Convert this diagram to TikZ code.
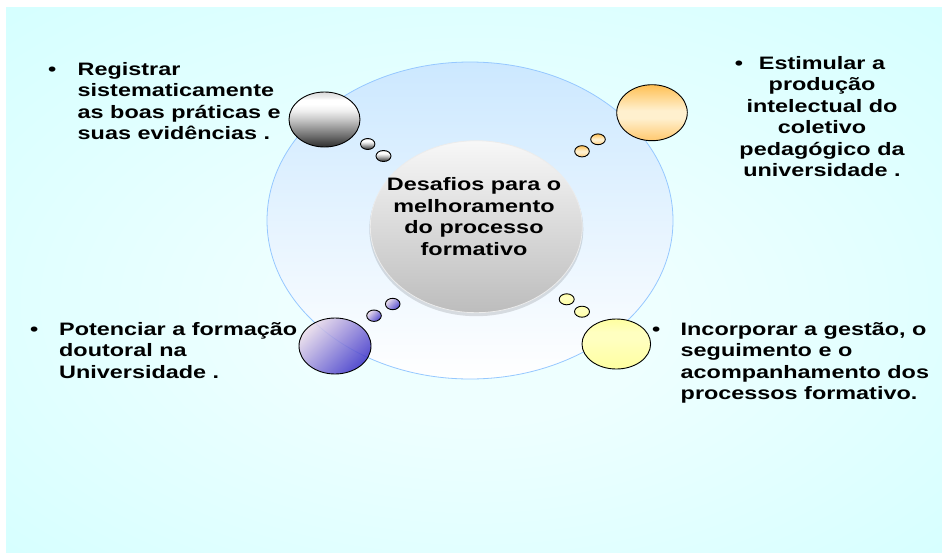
\documentclass[tikz,border=0pt]{standalone}
\usepackage{fontspec}
\usetikzlibrary{shapes.geometric}
\newfontfamily\fnt[FakeStretch=1.3]{Liberation Sans}
\newcommand\bul[1]{\llap{•\hspace{#1}}}
\definecolor{bgin}{RGB}{238,255,255}
\definecolor{bgout}{RGB}{202,255,255}
\definecolor{outtop}{RGB}{204,232,255}
\definecolor{outline}{RGB}{150,200,255}
\definecolor{orA}{RGB}{255,192,84}
\definecolor{orC}{RGB}{255,200,110}
\definecolor{orB}{RGB}{255,240,206}
\definecolor{puA}{RGB}{236,220,234}
\definecolor{puB}{RGB}{58,48,200}
\definecolor{yeA}{RGB}{255,255,160}
\definecolor{yeB}{RGB}{255,255,192}
\pgfdeclareradialshading{bgshade}{\pgfpoint{0bp}{-4bp}}{color(0bp)=(bgin); color(10bp)=(bgin); color(48bp)=(bgout)}
\pgfdeclareverticalshading{grayball}{100bp}{color(0bp)=(black!82); color(25bp)=(black!82); color(36bp)=(black!55); color(50bp)=(black!22); color(58bp)=(black!6); color(64bp)=(white); color(68bp)=(white); color(71bp)=(black!8); color(75bp)=(black!14); color(100bp)=(black!14)}
\pgfdeclareverticalshading{orangeball}{100bp}{color(0bp)=(orC); color(25bp)=(orC); color(45bp)=(orB); color(52bp)=(orB); color(75bp)=(orA); color(100bp)=(orA)}
\pgfdeclareverticalshading{yellowball}{100bp}{color(0bp)=(yeA); color(25bp)=(yeA); color(55bp)=(yeB); color(62bp)=(yeB); color(75bp)=(yeA); color(100bp)=(yeA)}
\tikzset{
  txt/.style={font=\fnt\bfseries\fontsize{18}{21.5}\selectfont, inner sep=0pt, text=black},
  blob/.style={ellipse, inner sep=0pt, draw=black, line width=0.9pt},
  graysh/.style={blob, shading=grayball},
  orangesh/.style={blob, shading=orangeball},
  purplesh/.style={blob, top color=puA, bottom color=puB, shading angle=45, fill opacity=0.85},
  yellowsh/.style={blob, shading=yellowball},
}
\begin{document}
\begin{tikzpicture}[x=1pt,y=-1pt]
\useasboundingbox (0,0) rectangle (942,552);
\fill[white] (0,0) rectangle (942,552);
\shade[shading=bgshade] (6,7.5) rectangle (942,552);
% outer ellipse
\node[ellipse, inner sep=0pt, minimum width=406pt, minimum height=317pt, draw=outline, line width=0.8pt, top color=outtop, bottom color=white] (outer) at (470,220.5) {};
% inner ellipse with soft shadow
\fill[black, opacity=0.12] (476.3,229.2) ellipse [x radius=107pt, y radius=87pt];
\node[ellipse, inner sep=0pt, minimum width=212pt, minimum height=172pt, draw=white!85!gray, line width=0.8pt, top color=white!97!black, bottom color=white!74!black] (inner) at (476.3,226.7) {};
% top-left gray
\node[graysh, minimum width=71pt, minimum height=55pt] (g) at (324.5,119.5) {};
\node[graysh, minimum width=14.4pt, minimum height=11pt] (g1) at (367.7,144) {};
\node[graysh, minimum width=15pt, minimum height=11pt] (g2) at (383.5,156) {};
% top-right orange
\node[orangesh, minimum width=70.6pt, minimum height=56pt] (o) at (652,112.7) {};
\node[orangesh, minimum width=14.6pt, minimum height=10.8pt] (o1) at (598,139.3) {};
\node[orangesh, minimum width=14.6pt, minimum height=11.2pt] (o2) at (582,151.3) {};
% bottom-left purple
\node[purplesh, minimum width=72pt, minimum height=56pt] (p) at (335,346) {};
\node[purplesh, minimum width=14.6pt, minimum height=11.4pt] (p1) at (374,315.7) {};
\node[purplesh, minimum width=14.6pt, minimum height=11.4pt] (p2) at (392.7,304) {};
% bottom-right yellow
\node[yellowsh, minimum width=68.6pt, minimum height=50pt] (y) at (616.3,344) {};
\node[yellowsh, minimum width=15pt, minimum height=11pt] (y1) at (566.7,299.3) {};
\node[yellowsh, minimum width=15pt, minimum height=11pt] (y2) at (582,311.7) {};
% texts
\node[txt, anchor=base] (ct) at (474,190.7) {\begin{tabular}[t]{@{}c@{}}Desafios para o\\ melhoramento\\ do processo\\ formativo\end{tabular}};
\node[txt, anchor=base west] (tl) at (77.5,75) {\begin{tabular}[t]{@{}l@{}}\bul{21.3pt}Registrar\\ sistematicamente\\ as boas práticas e\\ suas evidências .\end{tabular}};
\node[txt, anchor=base] (tr) at (822,69) {\begin{tabular}[t]{@{}c@{}}\bul{15.8pt}Estimular a\\ produção\\ intelectual do\\ coletivo\\ pedagógico da\\ universidade .\end{tabular}};
\node[txt, anchor=base west] (bl) at (59,335) {\begin{tabular}[t]{@{}l@{}}\bul{20.8pt}Potenciar a formação\\ doutoral na\\ Universidade .\end{tabular}};
\node[txt, anchor=base west] (br) at (680.5,335) {\begin{tabular}[t]{@{}l@{}}\bul{20.3pt}Incorporar a gestão, o\\ seguimento e o\\ acompanhamento dos\\ processos formativo.\end{tabular}};
\end{tikzpicture}
\end{document}
